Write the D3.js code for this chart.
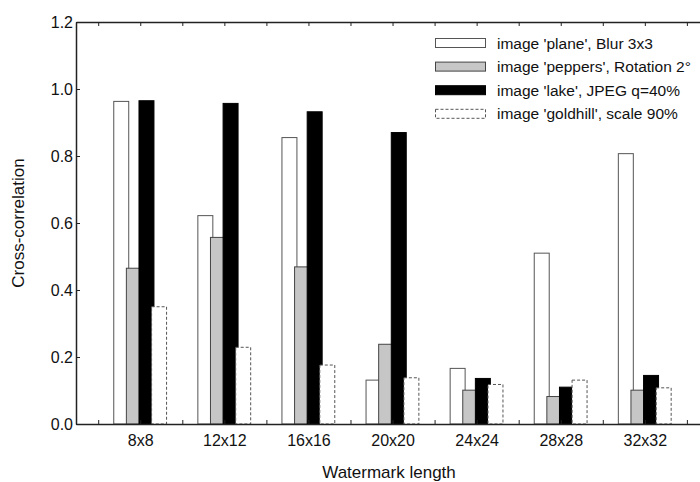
<!DOCTYPE html>
<html><head><meta charset="utf-8">
<script src="https://cdn.jsdelivr.net/npm/d3@7"></script>
<style>body{margin:0;background:#fff}svg{display:block}text{font-family:"Liberation Sans",Arial,Helvetica,sans-serif;fill:#111}</style>
</head><body>
<svg id="c" width="700" height="482"></svg>
<script>
const categories = ["8x8","12x12","16x16","20x20","24x24","28x28","32x32"];
const seriesNames = ["image 'plane', Blur 3x3","image 'peppers', Rotation 2°","image 'lake', JPEG q=40%","image 'goldhill', scale 90%"];
const plane    = [0.963, 0.622, 0.855, 0.131, 0.166, 0.510, 0.807];
const peppers  = [0.465, 0.557, 0.469, 0.238, 0.101, 0.082, 0.101];
const lake     = [0.965, 0.957, 0.932, 0.870, 0.136, 0.110, 0.145];
const goldhill = [0.350, 0.229, 0.176, 0.138, 0.118, 0.131, 0.108];
const yTicks = [0, 0.2, 0.4, 0.6, 0.8, 1.0, 1.2];
const series = [plane, peppers, lake, goldhill];
const styles = [
  {fill:"#ffffff", stroke:"#555", dash:null},
  {fill:"#c6c6c6", stroke:"#444", dash:null},
  {fill:"#000000", stroke:"#000", dash:null},
  {fill:"#ffffff", stroke:"#555", dash:"3,2"}
];

const svg = d3.select("#c");
const L = 76, R = 700, T = 22, B = 424;
const x = d3.scaleLinear().domain([-0.764, 6.656]).range([L, R]);
const y = d3.scaleLinear().domain([0, 1.2]).range([B, T]);
const barW = 0.19, step = 0.15;

// bars
series.forEach((vals, j) => {
  const st = styles[j];
  svg.append("g").selectAll("rect").data(vals).join("rect")
    .attr("x", (d, i) => x(i - 0.321 + j * step) + 0.5)
    .attr("y", d => y(d))
    .attr("width", x(barW) - x(0) - 1)
    .attr("height", d => y(0) - y(d))
    .attr("fill", st.fill)
    .attr("stroke", st.stroke)
    .attr("stroke-width", 1)
    .attr("stroke-dasharray", st.dash);
});

// y axis
const yAxis = d3.axisLeft(y).tickValues(yTicks).tickFormat(d3.format(".1f")).tickSizeInner(-4).tickSizeOuter(0).tickPadding(3);
const gy = svg.append("g").attr("transform", `translate(${L},0)`).call(yAxis);
gy.select(".domain").attr("stroke", "#222").attr("stroke-width", 1.5);
gy.selectAll(".tick line").attr("stroke", "#222");
gy.selectAll("text").attr("font-size", 16).attr("fill", "#111");

// x axis ticks (bottom & top)
const xt = d3.range(-0.5, 6.51, 0.5);
const xAxisB = d3.axisBottom(x).tickValues(xt).tickSizeInner(-4).tickSizeOuter(0).tickFormat("");
const gb = svg.append("g").attr("transform", `translate(0,${B})`).call(xAxisB);
gb.select(".domain").attr("stroke", "#222").attr("stroke-width", 1.5);
gb.selectAll(".tick line").attr("stroke", "#222");
const xAxisT = d3.axisTop(x).tickValues(xt).tickSizeInner(-4).tickSizeOuter(0).tickFormat("");
const gt = svg.append("g").attr("transform", `translate(0,${T})`).call(xAxisT);
gt.select(".domain").attr("stroke", "#222").attr("stroke-width", 1.5);
gt.selectAll(".tick line").attr("stroke", "#222");

// category labels
const xLab = d3.axisBottom(x).tickValues(d3.range(categories.length)).tickFormat(i => categories[i]).tickSize(0).tickPadding(11);
const gl = svg.append("g").attr("transform", `translate(0,${B})`).call(xLab);
gl.select(".domain").remove();
gl.selectAll("text").attr("font-size", 16).attr("fill", "#111");

// axis titles
svg.append("text").attr("x", 389).attr("y", 478).attr("text-anchor", "middle").attr("font-size", 17).text("Watermark length");
svg.append("text").attr("transform", `translate(24,223) rotate(-90)`).attr("text-anchor", "middle").attr("font-size", 17).text("Cross-correlation");

// legend
const lg = svg.append("g");
seriesNames.forEach((name, j) => {
  const cy = 43 + j * 23.6;
  const st = styles[j];
  lg.append("rect").attr("x", 435.5).attr("y", cy - 4.5).attr("width", 50).attr("height", 9)
    .attr("fill", st.fill).attr("stroke", st.stroke).attr("stroke-dasharray", st.dash);
  lg.append("text").attr("x", 497).attr("y", cy + 5.5).attr("font-size", 15.5).text(name);
});
</script>
</body></html>
